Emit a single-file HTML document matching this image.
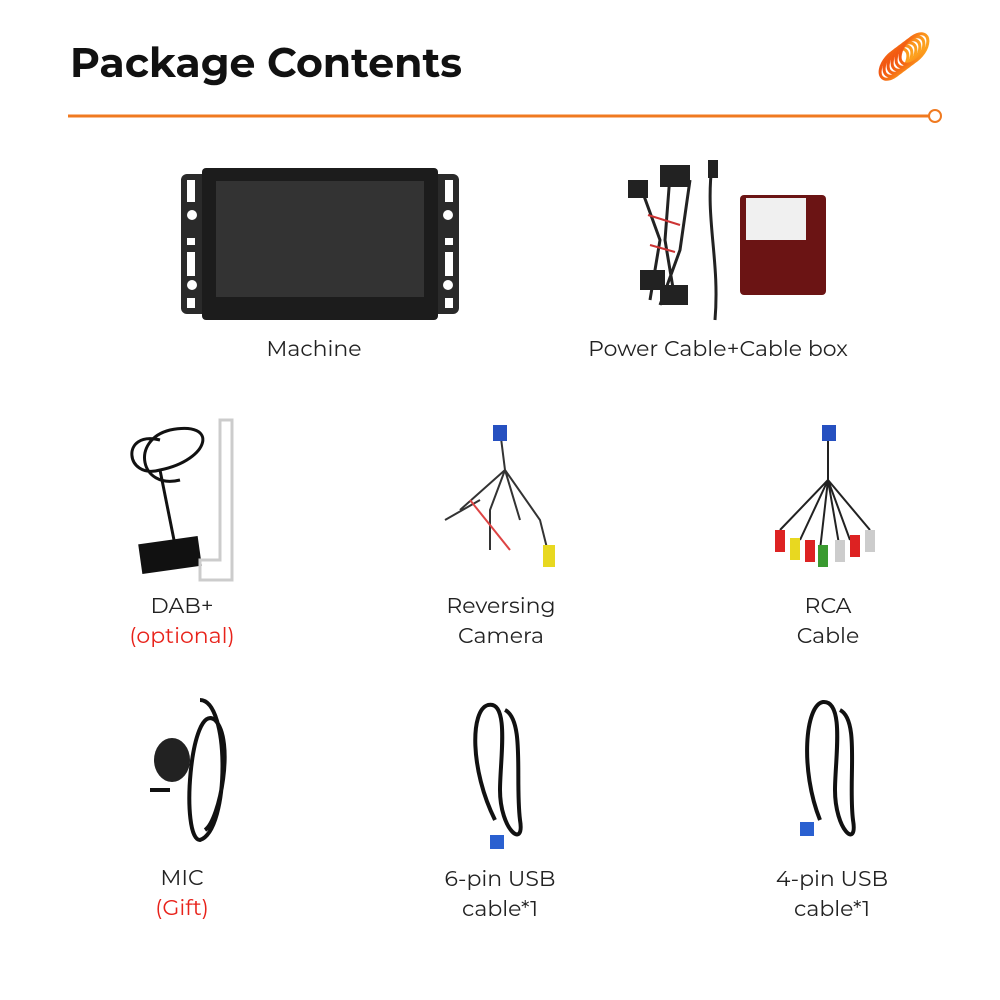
<!DOCTYPE html>
<html><head><style>
body{margin:0;width:1000px;height:1000px;background:#fff;position:relative;overflow:hidden;font-family:"Montserrat","Liberation Sans",sans-serif}
.t{position:absolute;font-size:22px;color:#222;text-align:center;line-height:30px;width:300px;margin-left:-150px}
.r{color:#e8221a}
h1{position:absolute;left:70px;top:38px;margin:0;font-size:41px;font-weight:bold;color:#111;letter-spacing:0}
</style></head><body>
<h1>Package Contents</h1>
<svg width="1000" height="1000" style="position:absolute;left:0;top:0">
<defs><linearGradient id="g" x1="0" y1="1" x2="1" y2="0"><stop offset="0" stop-color="#f04a10"/><stop offset="1" stop-color="#ffb020"/></linearGradient></defs>
<g fill="none" stroke="url(#g)" stroke-width="3">
<ellipse cx="894" cy="64" rx="10" ry="18" transform="rotate(40 894 64)"/>
<ellipse cx="898" cy="61" rx="10" ry="18" transform="rotate(40 898 61)"/>
<ellipse cx="902" cy="58" rx="10" ry="18" transform="rotate(40 902 58)"/>
<ellipse cx="906" cy="55" rx="10" ry="18" transform="rotate(40 906 55)"/>
<ellipse cx="910" cy="52" rx="10" ry="18" transform="rotate(40 910 52)"/>
<ellipse cx="914" cy="49" rx="10" ry="18" transform="rotate(40 914 49)"/>
</g>
<line x1="68" y1="116" x2="929" y2="116" stroke="#f07a20" stroke-width="3"/>
<circle cx="935" cy="116" r="6" fill="#fff" stroke="#f07a20" stroke-width="2"/>
<!-- machine -->
<rect x="181" y="174" width="278" height="140" rx="6" fill="#2a2a2a"/>
<rect x="202" y="168" width="236" height="152" rx="4" fill="#1c1c1c"/>
<rect x="216" y="181" width="208" height="116" fill="#333"/>
<g fill="#fff"><rect x="187" y="180" width="8" height="22"/><rect x="445" y="180" width="8" height="22"/><circle cx="192" cy="215" r="5"/><circle cx="448" cy="215" r="5"/><rect x="187" y="238" width="8" height="7"/><rect x="445" y="238" width="8" height="7"/><rect x="187" y="252" width="8" height="24"/><rect x="445" y="252" width="8" height="24"/><circle cx="192" cy="285" r="5"/><circle cx="448" cy="285" r="5"/><rect x="187" y="298" width="8" height="10"/><rect x="445" y="298" width="8" height="10"/></g>
<!-- power cable -->
<g stroke="#222" stroke-width="3" fill="none"><path d="M640 185 L660 240 L650 300 M670 175 L665 240 L675 300 M690 180 L680 250 L660 305 M712 165 C705 220 720 260 715 320"/></g>
<g fill="#222"><rect x="628" y="180" width="20" height="18"/><rect x="660" y="165" width="30" height="22"/><rect x="640" y="270" width="25" height="20"/><rect x="660" y="285" width="28" height="20"/><rect x="708" y="160" width="10" height="18"/></g>
<g stroke="#c33" stroke-width="2"><line x1="648" y1="215" x2="680" y2="225"/><line x1="650" y1="245" x2="675" y2="252"/></g>
<rect x="740" y="195" width="86" height="100" rx="4" fill="#6b1414"/>
<rect x="746" y="198" width="60" height="42" fill="#f0f0f0"/>
<!-- DAB -->
<path d="M160 440 C120 430 125 480 160 470 C210 460 220 420 170 430 C130 440 140 490 180 480" fill="none" stroke="#111" stroke-width="3"/>
<path d="M160 470 L175 545" stroke="#111" stroke-width="3"/>
<rect x="140" y="540" width="60" height="30" fill="#111" transform="rotate(-8 170 555)"/>
<path d="M220 420 L232 420 L232 580 L200 580 L200 560 L220 560 Z" fill="none" stroke="#ccc" stroke-width="3"/>
<!-- reversing -->
<g stroke="#333" stroke-width="2" fill="none"><path d="M500 430 L505 470 L460 510 M505 470 L540 520 L550 560 M505 470 L520 520 M505 470 L490 510 L490 550 M480 500 L445 520"/></g>
<g stroke="#d44" stroke-width="2"><line x1="470" y1="500" x2="510" y2="550"/></g>
<rect x="493" y="425" width="14" height="16" fill="#2650c0"/>
<rect x="543" y="545" width="12" height="22" fill="#e8d820"/>
<!-- RCA -->
<g stroke="#222" stroke-width="2" fill="none"><path d="M828 440 L828 480 L780 530 M828 480 L800 540 M828 480 L820 550 M828 480 L850 540 M828 480 L870 530 M828 480 L840 550"/></g>
<rect x="822" y="425" width="14" height="16" fill="#2650c0"/>
<g><rect x="775" y="530" width="10" height="22" fill="#d22"/><rect x="790" y="538" width="10" height="22" fill="#e8d820"/><rect x="805" y="540" width="10" height="22" fill="#d22"/><rect x="818" y="545" width="10" height="22" fill="#3a9a30"/><rect x="835" y="540" width="10" height="22" fill="#ccc"/><rect x="850" y="535" width="10" height="22" fill="#d22"/><rect x="865" y="530" width="10" height="22" fill="#ccc"/></g>
<!-- mic -->
<g stroke="#111" stroke-width="4" fill="none"><path d="M200 700 C230 700 230 830 200 840 C180 840 190 700 215 720 C235 740 220 820 205 830"/><path d="M170 790 L150 790"/></g>
<ellipse cx="172" cy="760" rx="18" ry="22" fill="#222"/>
<!-- 6-pin -->
<g stroke="#111" stroke-width="4" fill="none"><path d="M495 820 C470 770 470 710 488 705 C510 700 500 760 500 790 C500 830 525 850 520 820 C515 780 525 720 505 710"/></g>
<rect x="490" y="835" width="14" height="14" fill="#2a60d0"/>
<!-- 4-pin -->
<g stroke="#111" stroke-width="4" fill="none"><path d="M820 820 C800 770 805 705 823 702 C845 700 835 760 835 790 C835 830 858 850 853 820 C848 780 860 720 840 710"/></g>
<rect x="800" y="822" width="14" height="14" fill="#2a60d0"/>
</svg>
<div class="t" style="left:314px;top:334px">Machine</div>
<div class="t" style="left:718px;top:334px;width:320px;margin-left:-160px">Power Cable+Cable box</div>
<div class="t" style="left:182px;top:591px">DAB+<br><span class="r">(optional)</span></div>
<div class="t" style="left:501px;top:591px">Reversing<br>Camera</div>
<div class="t" style="left:828px;top:591px">RCA<br>Cable</div>
<div class="t" style="left:182px;top:863px">MIC<br><span class="r">(Gift)</span></div>
<div class="t" style="left:500px;top:864px">6-pin USB<br>cable*1</div>
<div class="t" style="left:832px;top:864px">4-pin USB<br>cable*1</div>
</body></html>
